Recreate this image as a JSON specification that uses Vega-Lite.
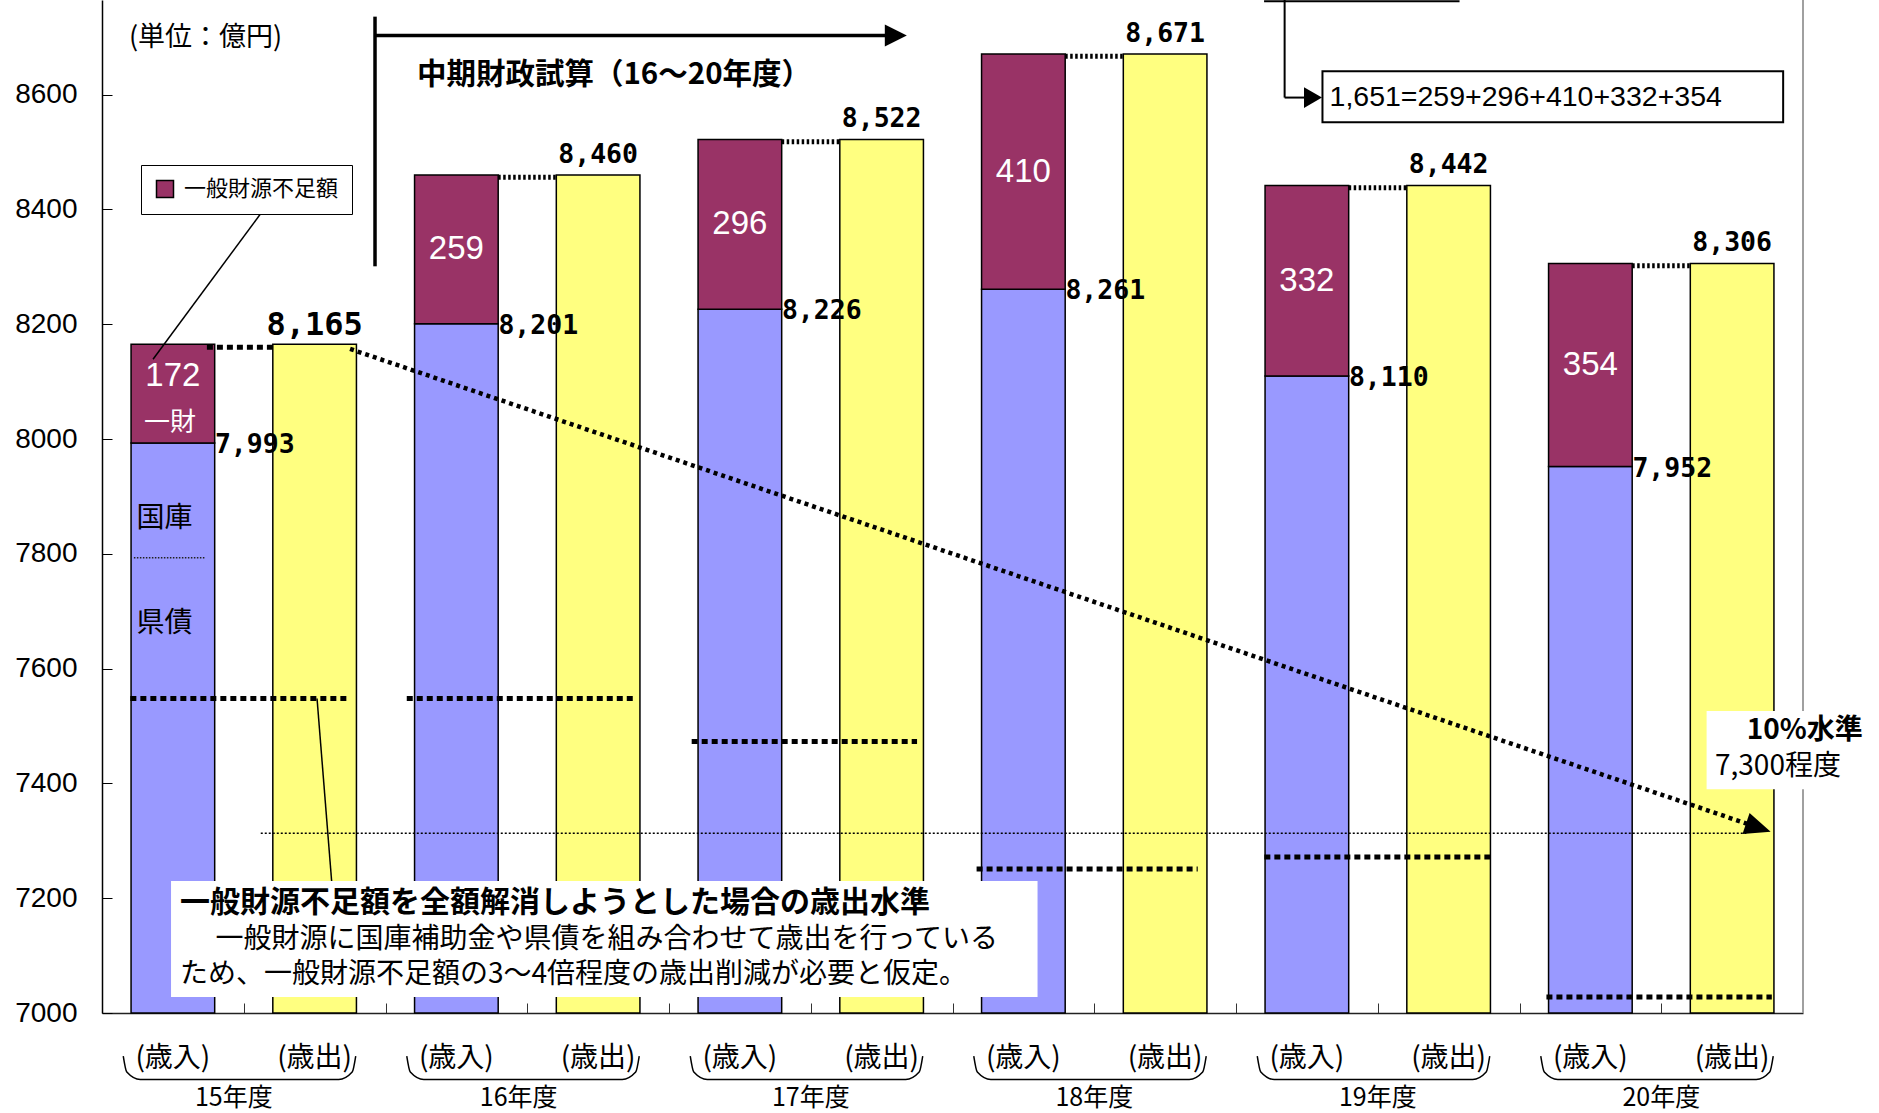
{
"$schema": "https://vega.github.io/schema/vega-lite/v6.json",
"width": 1701, "height": 1013,
"autosize": {"type": "none"},
"padding": {"left": 102, "top": 0, "right": 76, "bottom": 100},
"background": "white",
"config": {"view": {"stroke": null}, "text": {"font": "Noto Sans CJK JP"}},
"datasets": {
"bars": [
{"cat":"15入","part":"国庫・県債","lo":7000,"hi":7993},
{"cat":"15入","part":"一般財源不足額","lo":7993,"hi":8165,"amt":172},
{"cat":"15出","part":"歳出","lo":7000,"hi":8165},
{"cat":"16入","part":"国庫・県債","lo":7000,"hi":8201},
{"cat":"16入","part":"一般財源不足額","lo":8201,"hi":8460,"amt":259},
{"cat":"16出","part":"歳出","lo":7000,"hi":8460},
{"cat":"17入","part":"国庫・県債","lo":7000,"hi":8226},
{"cat":"17入","part":"一般財源不足額","lo":8226,"hi":8522,"amt":296},
{"cat":"17出","part":"歳出","lo":7000,"hi":8522},
{"cat":"18入","part":"国庫・県債","lo":7000,"hi":8261},
{"cat":"18入","part":"一般財源不足額","lo":8261,"hi":8671,"amt":410},
{"cat":"18出","part":"歳出","lo":7000,"hi":8671},
{"cat":"19入","part":"国庫・県債","lo":7000,"hi":8110},
{"cat":"19入","part":"一般財源不足額","lo":8110,"hi":8442,"amt":332},
{"cat":"19出","part":"歳出","lo":7000,"hi":8442},
{"cat":"20入","part":"国庫・県債","lo":7000,"hi":7952},
{"cat":"20入","part":"一般財源不足額","lo":7952,"hi":8306,"amt":354},
{"cat":"20出","part":"歳出","lo":7000,"hi":8306}
]
},
"resolve": {"scale": {"x": "independent"}},
"layer": [
{
"data": {"name": "bars"},
"mark": {"type": "bar", "stroke": "black", "strokeWidth": 1.5},
"encoding": {
"x": {"field":"cat","type":"nominal","scale":{"domain":["15入","15出","16入","16出","17入","17出","18入","18出","19入","19出","20入","20出"],"paddingInner":0.41,"paddingOuter":0.205},"axis":null},
"y": {"field":"lo","type":"quantitative","title":null,"scale":{"domain":[7000,8765],"nice":false,"zero":false},"axis":{"orient":"left","title":null,"values":[7000,7200,7400,7600,7800,8000,8200,8400,8600],"format":"d","grid":false,"ticks":true,"tickSize":-10,"tickColor":"black","tickWidth":1,"labelFont":"Liberation Sans","labelFontSize":28,"labelColor":"black","domainColor":"black","domainWidth":1.5,"labelPadding":35,"zindex":1}},
"y2": {"field":"hi"},
"color": {"field":"part","type":"nominal","scale":{"domain":["一般財源不足額","国庫・県債","歳出"],"range":["#993366","#9999FF","#FFFF80"]},
"legend":{"values":["一般財源不足額"],"orient":"none","legendX":39,"legendY":165,"title":null,"symbolType":"square","symbolSize":289,"symbolStrokeColor":"black","symbolStrokeWidth":1.5,"labelFont":"Noto Sans CJK JP","labelFontSize":22,"labelColor":"black","labelOffset":8,"labelLimit":300,"strokeColor":"black","fillColor":"white","padding":13}}
}
},
{
"data": {"values": [{"u":12,"v":7000,"v2":8765}]},
"mark": {"type":"rule","color":"#A0A0A0","strokeWidth":2},
"encoding": {
"x": {"field":"u","type":"quantitative","scale":{"domain":[0,12],"nice":false,"zero":false},
"axis":{"title":null,"values":[1,2,3,4,5,6,7,8,9,10,11],"labels":false,"grid":false,"tickSize":-10,"tickColor":"#333333","tickWidth":1,"domainColor":"#222222","domainWidth":1.5}},
"y": {"field":"v","type":"quantitative","title":null,"scale":{"domain":[7000,8765],"nice":false,"zero":false}},
"y2": {"field":"v2"}
}
},
{
"data": {"values": [{"u":1.12,"u2":11.6,"v":7313}]},
"mark": {"type":"rule","color":"black","strokeWidth":1.5,"strokeDash":[2,2]},
"encoding": {
"x": {"field":"u","type":"quantitative","scale":{"domain":[0,12],"nice":false,"zero":false},"axis":null},
"x2": {"field":"u2"},
"y": {"field":"v","type":"quantitative","title":null,"scale":{"domain":[7000,8765],"nice":false,"zero":false}}
}
},
{
"data": {"values": [{"u":0.2,"u2":1.75,"v":7548},{"u":2.15,"u2":3.76,"v":7548},{"u":4.16,"u2":5.75,"v":7473},{"u":6.17,"u2":7.73,"v":7251},{"u":8.2,"u2":9.8,"v":7272},{"u":10.19,"u2":11.78,"v":7028},{"u":0.74,"u2":1.21,"v":8160}]},
"mark": {"type":"rule","color":"black","strokeWidth":5,"strokeDash":[6,4]},
"encoding": {
"x": {"field":"u","type":"quantitative","scale":{"domain":[0,12],"nice":false,"zero":false},"axis":null},
"x2": {"field":"u2"},
"y": {"field":"v","type":"quantitative","title":null,"scale":{"domain":[7000,8765],"nice":false,"zero":false}}
}
},
{
"data": {"values": [{"u":2.795,"u2":3.205,"v":8456},{"u":4.795,"u2":5.205,"v":8518},{"u":6.795,"u2":7.205,"v":8667},{"u":8.795,"u2":9.205,"v":8438},{"u":10.795,"u2":11.205,"v":8302}]},
"mark": {"type":"rule","color":"black","strokeWidth":5,"strokeDash":[2.5,2.5]},
"encoding": {
"x": {"field":"u","type":"quantitative","scale":{"domain":[0,12],"nice":false,"zero":false},"axis":null},
"x2": {"field":"u2"},
"y": {"field":"v","type":"quantitative","title":null,"scale":{"domain":[7000,8765],"nice":false,"zero":false}}
}
},
{
"data": {"values": [{"u":1.75,"u2":11.685,"v":8157,"v2":7323}]},
"mark": {"type":"rule","color":"black","strokeWidth":4.5,"strokeDash":[4,4]},
"encoding": {
"x": {"field":"u","type":"quantitative","scale":{"domain":[0,12],"nice":false,"zero":false},"axis":null},
"x2": {"field":"u2"},
"y": {"field":"v","type":"quantitative","title":null,"scale":{"domain":[7000,8765],"nice":false,"zero":false}},
"y2": {"field":"v2"}
}
},
{
"data": {"values": [{"u":11.685,"v":7323}]},
"mark": {"type":"point","shape":"M1,0L-1,-0.85L-1,0.85Z","size":676,"angle":18.77,"filled":true,"color":"black","opacity":1},
"encoding": {
"x": {"field":"u","type":"quantitative","scale":{"domain":[0,12],"nice":false,"zero":false},"axis":null},
"y": {"field":"v","type":"quantitative","title":null,"scale":{"domain":[7000,8765],"nice":false,"zero":false}}
}
},
{
"data": {"values": [{"u":1.926,"u2":1.926,"v":8301,"v2":8736},{"u":1.926,"u2":5.56,"v":8703,"v2":8703}]},
"mark": {"type":"rule","color":"black","strokeWidth":3.5},
"encoding": {
"x": {"field":"u","type":"quantitative","scale":{"domain":[0,12],"nice":false,"zero":false},"axis":null},
"x2": {"field":"u2"},
"y": {"field":"v","type":"quantitative","title":null,"scale":{"domain":[7000,8765],"nice":false,"zero":false}},
"y2": {"field":"v2"}
}
},
{
"data": {"values": [{"u":5.6,"v":8703}]},
"mark": {"type":"point","shape":"M1,0L-1,-1L-1,1Z","size":484,"filled":true,"color":"black","opacity":1},
"encoding": {
"x": {"field":"u","type":"quantitative","scale":{"domain":[0,12],"nice":false,"zero":false},"axis":null},
"y": {"field":"v","type":"quantitative","title":null,"scale":{"domain":[7000,8765],"nice":false,"zero":false}}
}
},
{
"data": {"values": [{"u":8.343,"u2":8.343,"v":8595,"v2":8765},{"u":8.343,"u2":8.55,"v":8595,"v2":8595},{"u":8.198,"u2":9.577,"v":8763,"v2":8763}]},
"mark": {"type":"rule","color":"black","strokeWidth":2},
"encoding": {
"x": {"field":"u","type":"quantitative","scale":{"domain":[0,12],"nice":false,"zero":false},"axis":null},
"x2": {"field":"u2"},
"y": {"field":"v","type":"quantitative","title":null,"scale":{"domain":[7000,8765],"nice":false,"zero":false}},
"y2": {"field":"v2"}
}
},
{
"data": {"values": [{"u":8.543,"v":8595}]},
"mark": {"type":"point","shape":"M1,0L-1,-1.15L-1,1.15Z","size":324,"filled":true,"color":"black","opacity":1},
"encoding": {
"x": {"field":"u","type":"quantitative","scale":{"domain":[0,12],"nice":false,"zero":false},"axis":null},
"y": {"field":"v","type":"quantitative","title":null,"scale":{"domain":[7000,8765],"nice":false,"zero":false}}
}
},
{
"data": {"values": [{"u":0.487,"u2":6.6,"v":7028,"v2":7230},{"u":11.32,"u2":12.6,"v":7390,"v2":7526}]},
"mark": {"type":"rect","color":"white","opacity":1},
"encoding": {
"x": {"field":"u","type":"quantitative","scale":{"domain":[0,12],"nice":false,"zero":false},"axis":null},
"x2": {"field":"u2"},
"y": {"field":"v","type":"quantitative","title":null,"scale":{"domain":[7000,8765],"nice":false,"zero":false}},
"y2": {"field":"v2"}
}
},
{
"data": {"values": [{"u":8.61,"u2":11.86,"v":8552,"v2":8641}]},
"mark": {"type":"rect","fill":"white","stroke":"black","strokeWidth":2,"opacity":1},
"encoding": {
"x": {"field":"u","type":"quantitative","scale":{"domain":[0,12],"nice":false,"zero":false},"axis":null},
"x2": {"field":"u2"},
"y": {"field":"v","type":"quantitative","title":null,"scale":{"domain":[7000,8765],"nice":false,"zero":false}},
"y2": {"field":"v2"}
}
},
{
"data": {"values": [{"u":1.517,"u2":1.62,"v":7548,"v2":7230},{"u":1.12,"u2":0.36,"v":8393,"v2":8139}]},
"mark": {"type":"rule","color":"black","strokeWidth":1.5},
"encoding": {
"x": {"field":"u","type":"quantitative","scale":{"domain":[0,12],"nice":false,"zero":false},"axis":null},
"x2": {"field":"u2"},
"y": {"field":"v","type":"quantitative","title":null,"scale":{"domain":[7000,8765],"nice":false,"zero":false}},
"y2": {"field":"v2"}
}
},
{
"data": {"values": [{"u":0.225,"u2":0.728,"v":7793}]},
"mark": {"type":"rule","color":"#222222","strokeWidth":1.5,"strokeDash":[1.5,1.5]},
"encoding": {
"x": {"field":"u","type":"quantitative","scale":{"domain":[0,12],"nice":false,"zero":false},"axis":null},
"x2": {"field":"u2"},
"y": {"field":"v","type":"quantitative","title":null,"scale":{"domain":[7000,8765],"nice":false,"zero":false}}
}
},
{
"data": {"values": [{"u":0.244,"v":7861,"t":"国庫"},{"u":0.244,"v":7677,"t":"県債"},{"u":0.8,"v":7127,"t":"一般財源に国庫補助金や県債を組み合わせて歳出を行っている"},{"u":0.55,"v":7066,"t":"ため、一般財源不足額の3～4倍程度の歳出削減が必要と仮定。"},{"u":11.379,"v":7429,"t":"7,300程度"}]},
"mark": {"type":"text","font":"Noto Sans CJK JP","fontSize":28,"align":"left","baseline":"middle","color":"black"},
"encoding": {
"x": {"field":"u","type":"quantitative","scale":{"domain":[0,12],"nice":false,"zero":false},"axis":null},
"y": {"field":"v","type":"quantitative","title":null,"scale":{"domain":[7000,8765],"nice":false,"zero":false}},
"text": {"field":"t","type":"nominal"}
}
},
{
"data": {"values": [{"u":2.222,"v":8635,"t":"中期財政試算（16～20年度）"}]},
"mark": {"type":"text","font":"Noto Sans CJK JP","fontSize":29.5,"fontWeight":"bold","align":"left","baseline":"middle","color":"black"},
"encoding": {
"x": {"field":"u","type":"quantitative","scale":{"domain":[0,12],"nice":false,"zero":false},"axis":null},
"y": {"field":"v","type":"quantitative","title":null,"scale":{"domain":[7000,8765],"nice":false,"zero":false}},
"text": {"field":"t","type":"nominal"}
}
},
{
"data": {"values": [{"u":11.603,"v":7492,"t":"10%水準"}]},
"mark": {"type":"text","font":"Noto Sans CJK JP","fontSize":28,"fontWeight":"bold","align":"left","baseline":"middle","color":"black"},
"encoding": {
"x": {"field":"u","type":"quantitative","scale":{"domain":[0,12],"nice":false,"zero":false},"axis":null},
"y": {"field":"v","type":"quantitative","title":null,"scale":{"domain":[7000,8765],"nice":false,"zero":false}},
"text": {"field":"t","type":"nominal"}
}
},
{
"data": {"values": [{"u":0.55,"v":7192,"t":"一般財源不足額を全額解消しようとした場合の歳出水準"}]},
"mark": {"type":"text","font":"Noto Sans CJK JP","fontSize":30,"fontWeight":"bold","align":"left","baseline":"middle","color":"black"},
"encoding": {
"x": {"field":"u","type":"quantitative","scale":{"domain":[0,12],"nice":false,"zero":false},"axis":null},
"y": {"field":"v","type":"quantitative","title":null,"scale":{"domain":[7000,8765],"nice":false,"zero":false}},
"text": {"field":"t","type":"nominal"}
}
},
{
"data": {"values": [{"u":8.66,"v":8596,"t":"1,651=259+296+410+332+354"}]},
"mark": {"type":"text","font":"Liberation Sans","fontSize":28.5,"align":"left","baseline":"middle","color":"black"},
"encoding": {
"x": {"field":"u","type":"quantitative","scale":{"domain":[0,12],"nice":false,"zero":false},"axis":null},
"y": {"field":"v","type":"quantitative","title":null,"scale":{"domain":[7000,8765],"nice":false,"zero":false}},
"text": {"field":"t","type":"nominal"}
}
},
{
"data": {"values": [{"u":0.19,"v":8698,"t":"(単位：億円)"}]},
"mark": {"type":"text","font":"Noto Sans CJK JP","fontSize":27,"align":"left","baseline":"middle","color":"black"},
"encoding": {
"x": {"field":"u","type":"quantitative","scale":{"domain":[0,12],"nice":false,"zero":false},"axis":null},
"y": {"field":"v","type":"quantitative","title":null,"scale":{"domain":[7000,8765],"nice":false,"zero":false}},
"text": {"field":"t","type":"nominal"}
}
},
{
"data": {"values": [{"u":0.48,"v":8028,"t":"一財"}]},
"mark": {"type":"text","font":"Noto Sans CJK JP","fontSize":26,"align":"center","baseline":"middle","color":"white"},
"encoding": {
"x": {"field":"u","type":"quantitative","scale":{"domain":[0,12],"nice":false,"zero":false},"axis":null},
"y": {"field":"v","type":"quantitative","title":null,"scale":{"domain":[7000,8765],"nice":false,"zero":false}},
"text": {"field":"t","type":"nominal"}
}
},
{
"data": {"values": [{"u":0.93,"t":"15年度"},{"u":2.94,"t":"16年度"},{"u":5,"t":"17年度"},{"u":7,"t":"18年度"},{"u":9,"t":"19年度"},{"u":11,"t":"20年度"}]},
"mark": {"type":"text","font":"Noto Sans CJK JP","fontSize":25,"align":"center","baseline":"middle","color":"black"},
"encoding": {
"x": {"field":"u","type":"quantitative","scale":{"domain":[0,12],"nice":false,"zero":false},"axis":null},
"y": {"datum":6852,"type":"quantitative","title":null,"scale":{"domain":[7000,8765],"nice":false,"zero":false}},
"text": {"field":"t","type":"nominal"}
}
},
{
"data": {"values": [
{"g":15,"u":0.15,"v":6925},{"g":15,"u":0.175,"v":6897},{"g":15,"u":0.27,"v":6884},{"g":15,"u":1.67,"v":6884},{"g":15,"u":1.765,"v":6897},{"g":15,"u":1.79,"v":6925},
{"g":16,"u":2.15,"v":6925},{"g":16,"u":2.175,"v":6897},{"g":16,"u":2.27,"v":6884},{"g":16,"u":3.67,"v":6884},{"g":16,"u":3.765,"v":6897},{"g":16,"u":3.79,"v":6925},
{"g":17,"u":4.15,"v":6925},{"g":17,"u":4.175,"v":6897},{"g":17,"u":4.27,"v":6884},{"g":17,"u":5.67,"v":6884},{"g":17,"u":5.765,"v":6897},{"g":17,"u":5.79,"v":6925},
{"g":18,"u":6.15,"v":6925},{"g":18,"u":6.175,"v":6897},{"g":18,"u":6.27,"v":6884},{"g":18,"u":7.67,"v":6884},{"g":18,"u":7.765,"v":6897},{"g":18,"u":7.79,"v":6925},
{"g":19,"u":8.15,"v":6925},{"g":19,"u":8.175,"v":6897},{"g":19,"u":8.27,"v":6884},{"g":19,"u":9.67,"v":6884},{"g":19,"u":9.765,"v":6897},{"g":19,"u":9.79,"v":6925},
{"g":20,"u":10.15,"v":6925},{"g":20,"u":10.175,"v":6897},{"g":20,"u":10.27,"v":6884},{"g":20,"u":11.67,"v":6884},{"g":20,"u":11.765,"v":6897},{"g":20,"u":11.79,"v":6925}
]},
"mark": {"type":"line","color":"black","strokeWidth":1.5,"interpolate":"monotone"},
"encoding": {
"x": {"field":"u","type":"quantitative","scale":{"domain":[0,12],"nice":false,"zero":false},"axis":null},
"y": {"field":"v","type":"quantitative","title":null,"scale":{"domain":[7000,8765],"nice":false,"zero":false}},
"detail": {"field":"g","type":"nominal"}
}
},
{
"data": {"values": [{"cat":"15入","t":"(歳入)"},{"cat":"15出","t":"(歳出)"},{"cat":"16入","t":"(歳入)"},{"cat":"16出","t":"(歳出)"},{"cat":"17入","t":"(歳入)"},{"cat":"17出","t":"(歳出)"},{"cat":"18入","t":"(歳入)"},{"cat":"18出","t":"(歳出)"},{"cat":"19入","t":"(歳入)"},{"cat":"19出","t":"(歳出)"},{"cat":"20入","t":"(歳入)"},{"cat":"20出","t":"(歳出)"}]},
"mark": {"type":"text","font":"Noto Sans CJK JP","fontSize":28,"align":"center","baseline":"middle","color":"black"},
"encoding": {
"x": {"field":"cat","type":"nominal","scale":{"domain":["15入","15出","16入","16出","17入","17出","18入","18出","19入","19出","20入","20出"],"paddingInner":0.41,"paddingOuter":0.205},"axis":null},
"y": {"datum":6920,"type":"quantitative","title":null,"scale":{"domain":[7000,8765],"nice":false,"zero":false}},
"text": {"field":"t","type":"nominal"}
}
},
{
"data": {"name": "bars"},
"transform": [{"filter": "datum.part === '歳出' && datum.cat !== '15出'"}],
"mark": {"type":"text","font":"DejaVu Sans Mono","fontWeight":"bold","fontSize":26.5,"align":"center","baseline":"alphabetic","dy":-12,"color":"black"},
"encoding": {
"x": {"field":"cat","type":"nominal","scale":{"domain":["15入","15出","16入","16出","17入","17出","18入","18出","19入","19出","20入","20出"],"paddingInner":0.41,"paddingOuter":0.205},"axis":null},
"y": {"field":"hi","type":"quantitative","title":null,"scale":{"domain":[7000,8765],"nice":false,"zero":false}},
"text": {"field":"hi","type":"quantitative","format":","}
}
},
{
"data": {"name": "bars"},
"transform": [{"filter": "datum.cat === '15出'"}],
"mark": {"type":"text","font":"DejaVu Sans Mono","fontWeight":"bold","fontSize":32,"align":"center","baseline":"alphabetic","dy":-9,"color":"black"},
"encoding": {
"x": {"field":"cat","type":"nominal","scale":{"domain":["15入","15出","16入","16出","17入","17出","18入","18出","19入","19出","20入","20出"],"paddingInner":0.41,"paddingOuter":0.205},"axis":null},
"y": {"field":"hi","type":"quantitative","title":null,"scale":{"domain":[7000,8765],"nice":false,"zero":false}},
"text": {"field":"hi","type":"quantitative","format":","}
}
},
{
"data": {"name": "bars"},
"transform": [{"filter": "datum.part === '一般財源不足額'"}],
"mark": {"type":"text","font":"DejaVu Sans Mono","fontWeight":"bold","fontSize":26.5,"align":"left","baseline":"middle","dx":42,"dy":2,"color":"black"},
"encoding": {
"x": {"field":"cat","type":"nominal","scale":{"domain":["15入","15出","16入","16出","17入","17出","18入","18出","19入","19出","20入","20出"],"paddingInner":0.41,"paddingOuter":0.205},"axis":null},
"y": {"field":"lo","type":"quantitative","title":null,"scale":{"domain":[7000,8765],"nice":false,"zero":false}},
"text": {"field":"lo","type":"quantitative","format":","}
}
},
{
"data": {"name": "bars"},
"transform": [{"filter": "datum.part === '一般財源不足額' && datum.cat !== '15入'"},{"calculate":"(datum.lo + datum.hi) / 2","as":"mid"}],
"mark": {"type":"text","font":"Liberation Sans","fontSize":33,"align":"center","baseline":"middle","color":"white"},
"encoding": {
"x": {"field":"cat","type":"nominal","scale":{"domain":["15入","15出","16入","16出","17入","17出","18入","18出","19入","19出","20入","20出"],"paddingInner":0.41,"paddingOuter":0.205},"axis":null},
"y": {"field":"mid","type":"quantitative","title":null,"scale":{"domain":[7000,8765],"nice":false,"zero":false}},
"text": {"field":"amt","type":"quantitative"}
}
},
{
"data": {"name": "bars"},
"transform": [{"filter": "datum.part === '一般財源不足額' && datum.cat === '15入'"},{"calculate":"(datum.lo + datum.hi) / 2","as":"mid"}],
"mark": {"type":"text","font":"Liberation Sans","fontSize":33,"align":"center","baseline":"middle","dy":-18,"color":"white"},
"encoding": {
"x": {"field":"cat","type":"nominal","scale":{"domain":["15入","15出","16入","16出","17入","17出","18入","18出","19入","19出","20入","20出"],"paddingInner":0.41,"paddingOuter":0.205},"axis":null},
"y": {"field":"mid","type":"quantitative","title":null,"scale":{"domain":[7000,8765],"nice":false,"zero":false}},
"text": {"field":"amt","type":"quantitative"}
}
}
]
}
